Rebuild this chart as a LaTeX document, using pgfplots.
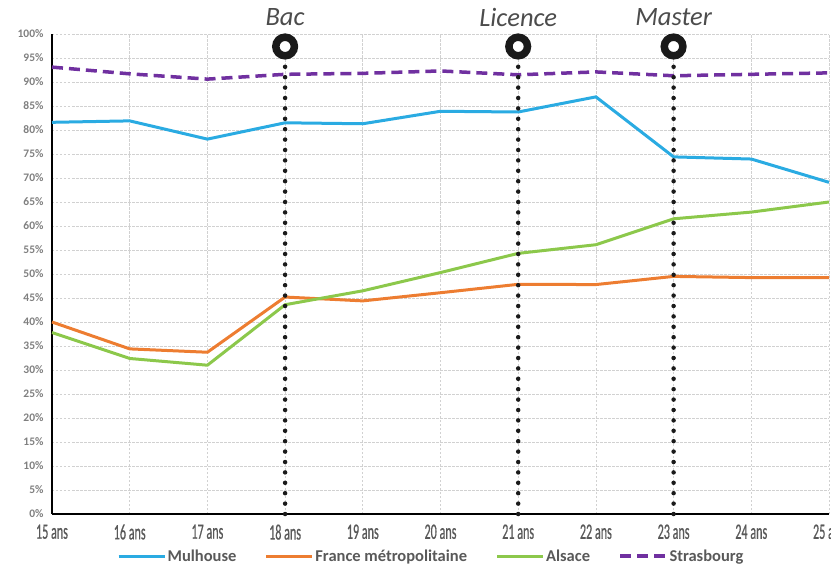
\documentclass[border=0pt]{standalone}
\usepackage{fontspec}
\setmainfont{Carlito}
\newfontfamily\condfont[FakeStretch=0.55,FakeBold=0.6]{Carlito}
\usepackage{pgfplots}
\pgfplotsset{compat=1.18}
\usetikzlibrary{calc}
\definecolor{mulblue}{HTML}{2AABE2}
\definecolor{frorange}{HTML}{ED7D31}
\definecolor{alsgreen}{HTML}{8CC84B}
\definecolor{strpurple}{HTML}{7030A0}
\definecolor{txtgray}{HTML}{595959}
\definecolor{ticgray}{HTML}{7F7F7F}
\definecolor{mkblack}{HTML}{1A1A1A}

\begin{document}
\begin{tikzpicture}
\begin{axis}[
name=ax,
scale only axis,width=777pt,height=480pt,
xmin=15,xmax=25,ymin=0,ymax=100,
axis x line=bottom,axis y line=left,
axis line style={-,line width=2.6pt,black},
xtick={15,16,...,25},
xticklabels={15 ans,16 ans,17 ans,18 ans,19 ans,20 ans,21 ans,22 ans,23 ans,24 ans,25 ans},
ytick={0,5,...,100},
yticklabels={0\%,5\%,10\%,15\%,20\%,25\%,30\%,35\%,40\%,45\%,50\%,55\%,60\%,65\%,70\%,75\%,80\%,85\%,90\%,95\%,100\%},
major tick length=0pt,
grid=major,major grid style={black!18,dash pattern=on 2.5pt off 1.5pt,line width=0.7pt},
clip=false,
xticklabel style={font=\condfont\fontsize{22}{22}\selectfont,text=txtgray,yshift=-7pt},
yticklabel style={font=\bfseries\fontsize{11.5}{13}\selectfont,text=ticgray,xshift=-5pt},
legend style={at={(axis description cs:0.5,-0.0875)},xshift=-9.5pt,anchor=center,draw=none,fill=none,
  legend columns=-1,font=\bfseries\fontsize{16.5}{18}\selectfont,text=txtgray,
  /tikz/every even column/.append style={column sep=27pt},
  nodes={inner xsep=1.5pt}},
legend image code/.code={\draw[#1] (0pt,0pt) -- (46pt,0pt);},
]
\addplot[mulblue,line width=3pt] coordinates {(15,81.6)(16,81.9)(17,78.1)(18,81.5)(19,81.3)(20,83.9)(21,83.75)(22,86.9)(23,74.4)(24,73.95)(25,69.1)};
\addlegendentry{Mulhouse}
\addplot[frorange,line width=3pt] coordinates {(15,40.0)(16,34.4)(17,33.7)(18,45.2)(19,44.4)(20,46.1)(21,47.85)(22,47.8)(23,49.5)(24,49.25)(25,49.25)};
\addlegendentry{France métropolitaine}
\addplot[alsgreen,line width=3pt] coordinates {(15,37.8)(16,32.4)(17,31.0)(18,43.6)(19,46.5)(20,50.3)(21,54.3)(22,56.1)(23,61.5)(24,62.9)(25,65.0)};
\addlegendentry{Alsace}
\addplot[strpurple,line width=3.5pt,dash pattern=on 11pt off 6pt] coordinates {(15,93.1)(16,91.7)(17,90.6)(18,91.6)(19,91.8)(20,92.3)(21,91.5)(22,92.1)(23,91.3)(24,91.6)(25,91.9)};
\addlegendentry{Strasbourg}
% jalons
\addplot[forget plot,mkblack,line width=4.5pt,line cap=round,dash pattern=on 0pt off 10.4pt] coordinates {(18,0)(18,97.4)};
\addplot[forget plot,mkblack,line width=4.5pt,line cap=round,dash pattern=on 0pt off 10.4pt] coordinates {(21,0)(21,97.4)};
\addplot[forget plot,mkblack,line width=4.5pt,line cap=round,dash pattern=on 0pt off 10.4pt] coordinates {(23,0)(23,97.4)};
\addplot[forget plot,only marks,mark=*,mark size=9.3pt,mark options={fill=white,draw=mkblack,line width=7.5pt}] coordinates {(18,97.4)(21,97.4)(23,97.4)};
\node[font=\itshape\fontsize{26.5}{26.5}\selectfont,text=black!70] at (axis cs:18,103.5) {Bac};
\node[font=\itshape\fontsize{26.5}{26.5}\selectfont,text=black!70] at (axis cs:21,103.5) {Licence};
\node[font=\itshape\fontsize{26.5}{26.5}\selectfont,text=black!70] at (axis cs:23,103.5) {Master};
\end{axis}
\pgfresetboundingbox
\path[use as bounding box] ($(ax.south west)+(-52pt,-51pt)$) rectangle ($(ax.north east)+(2pt,34pt)$);
\end{tikzpicture}
\end{document}
